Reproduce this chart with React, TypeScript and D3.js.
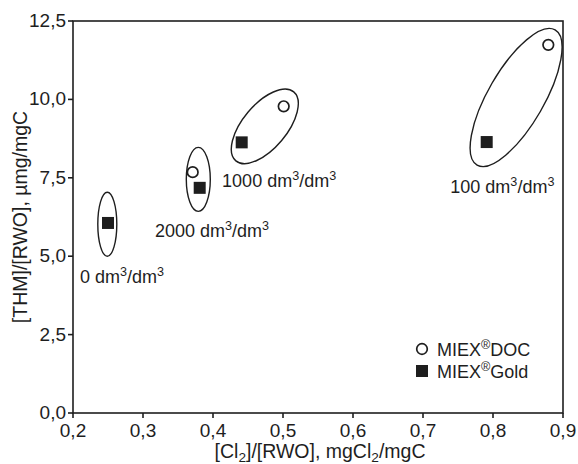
import React from "react";
import * as d3 from "d3";

// MIEX DOC series (open circles)
const docX = [0.371, 0.501, 0.879];
const docY = [7.68, 9.78, 11.74];

// MIEX Gold series (filled squares)
const goldX = [0.25, 0.381, 0.441, 0.791];
const goldY = [6.06, 7.18, 8.63, 8.64];

// dose groups: ellipse centre (data units) and label anchor (data units)
const groupNames = ["0", "2000", "1000", "100"];
const groupCx = [0.249, 0.379, 0.474, 0.833];
const groupCy = [6.02, 7.45, 9.14, 10.06];
const labelX = [0.21, 0.317, 0.413, 0.739];
const labelY = [4.14, 5.6, 7.2, 7.0];

const xTicks = [0.2, 0.3, 0.4, 0.5, 0.6, 0.7, 0.8, 0.9];
const yTicks = [0, 2.5, 5, 7.5, 10, 12.5];

const W = 578;
const H = 464;
const margin = { top: 21, right: 15, bottom: 51, left: 73 };
const ink = "#1e1e1e";
const font = "'Liberation Sans', Arial, sans-serif";
const tickFs = 19;
const noteFs = 18;
const titleFs = 19.5;

// ellipse shapes in px: semi-axes and tilt
const ellRx = [9.5, 12, 45, 78];
const ellRy = [32, 32, 22, 28];
const ellRot = [0, 0, -50, -60];

const comma = (v: number, d: number) => v.toFixed(d).replace(".", ",");

export default function App() {
  const x = d3.scaleLinear().domain([0.2, 0.9]).range([margin.left, W - margin.right]);
  const y = d3.scaleLinear().domain([0, 12.5]).range([H - margin.bottom, margin.top]);
  const x0 = x.range()[0];
  const x1 = x.range()[1];
  const y0 = y.range()[0];
  const y1 = y.range()[1];

  const sup = (s: string) => (
    <tspan fontSize={noteFs * 0.7} dy={-7}>
      {s}
    </tspan>
  );
  const down = (s: string) => <tspan dy={7}>{s}</tspan>;

  return (
    <svg width={W} height={H} style={{ position: "absolute", left: 0, top: 0, background: "#fff" }}>
      <g fontFamily={font} fill={ink}>
        {/* frame */}
        <rect x={x0} y={y1} width={x1 - x0} height={y0 - y1} fill="none" stroke={ink} strokeWidth={1.6} />

        {/* x axis ticks */}
        {xTicks.map((t) => (
          <g key={"xt" + t}>
            <line x1={x(t)} x2={x(t)} y1={y0} y2={y0 + 5} stroke={ink} strokeWidth={1.6} />
            <text x={x(t)} y={y0 + 24} textAnchor="middle" fontSize={tickFs}>
              {comma(t, 1)}
            </text>
          </g>
        ))}

        {/* y axis ticks */}
        {yTicks.map((t) => (
          <g key={"yt" + t}>
            <line x1={x0 - 5} x2={x0} y1={y(t)} y2={y(t)} stroke={ink} strokeWidth={1.6} />
            <text x={x0 - 7} y={y(t) + 6} textAnchor="end" fontSize={tickFs}>
              {comma(t, 1)}
            </text>
          </g>
        ))}

        {/* axis titles */}
        <text x={(x0 + x1) / 2 + 2} y={H - 6} textAnchor="middle" fontSize={titleFs}>
          [Cl<tspan fontSize={titleFs * 0.7} dy={4}>2</tspan>
          <tspan dy={-4}>]/[RWO], mgCl</tspan>
          <tspan fontSize={titleFs * 0.7} dy={4}>2</tspan>
          <tspan dy={-4}>/mgC</tspan>
        </text>
        <text transform={`translate(27,${(y0 + y1) / 2}) rotate(-90)`} textAnchor="middle" fontSize={titleFs}>
          [THM]/[RWO], µmg/mgC
        </text>

        {/* group ellipses */}
        {groupNames.map((g, i) => (
          <ellipse
            key={"e" + g}
            cx={0}
            cy={0}
            rx={ellRx[i]}
            ry={ellRy[i]}
            transform={`translate(${x(groupCx[i])},${y(groupCy[i])}) rotate(${ellRot[i]})`}
            fill="none"
            stroke={ink}
            strokeWidth={1.4}
          />
        ))}

        {/* group labels */}
        {groupNames.map((g, i) => (
          <text key={"l" + g} x={x(labelX[i])} y={y(labelY[i])} fontSize={noteFs}>
            {g} dm{sup("3")}
            {down("/dm")}
            {sup("3")}
          </text>
        ))}

        {/* DOC points */}
        {docX.map((v, i) => (
          <circle key={"d" + i} cx={x(v)} cy={y(docY[i])} r={5.3} fill="#fff" stroke={ink} strokeWidth={1.7} />
        ))}

        {/* Gold points */}
        {goldX.map((v, i) => (
          <rect key={"g" + i} x={x(v) - 6} y={y(goldY[i]) - 6} width={12} height={12} fill={ink} />
        ))}

        {/* legend */}
        <circle cx={422} cy={349} r={5.3} fill="#fff" stroke={ink} strokeWidth={1.7} />
        <text x={437} y={356} fontSize={noteFs}>
          MIEX{sup("®")}
          {down("DOC")}
        </text>
        <rect x={416} y={365} width={12} height={12} fill={ink} />
        <text x={437} y={378} fontSize={noteFs}>
          MIEX{sup("®")}
          {down("Gold")}
        </text>
      </g>
    </svg>
  );
}
